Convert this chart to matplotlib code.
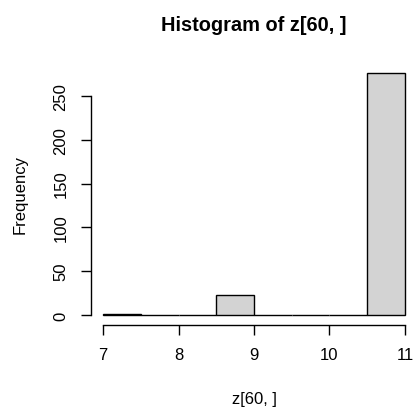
import matplotlib
matplotlib.use("Agg")
import matplotlib.pyplot as plt
import numpy as np

breaks = [7.0, 7.5, 8.0, 8.5, 9.0, 9.5, 10.0, 10.5, 11.0]
counts = [1, 0, 0, 23, 0, 0, 0, 276]
xticks = [7, 8, 9, 10, 11]
yticks = [0, 50, 100, 150, 200, 250]

W, H = 415, 414
plt.rcParams['font.family'] = ['Liberation Sans', 'DejaVu Sans']
fig = plt.figure(figsize=(W/100, H/100), dpi=100)

left, right = 91, 417
bottom, top = 325.7, 64.5
ax = fig.add_axes([left/W, 1-bottom/H, (right-left)/W, (bottom-top)/H])

lefts = np.array(breaks[:-1])
widths = np.diff(breaks)
ax.bar(lefts, counts, width=widths, align='edge', color='#D3D3D3',
       edgecolor='black', linewidth=1.0)

ymax = max(counts)
ax.set_xlim(7 - 0.04*4, 11 + 0.04*4)
ax.set_ylim(-0.04*ymax, ymax*1.04)

for s in ['top', 'right']:
    ax.spines[s].set_visible(False)
ax.spines['left'].set_bounds(0, 250)
ax.spines['bottom'].set_bounds(7, 11)
ax.spines['left'].set_linewidth(1.0)
ax.spines['bottom'].set_linewidth(1.0)

ax.set_xticks(xticks)
ax.set_xticklabels([str(t) for t in xticks])
ax.set_yticks(yticks)
ax.set_yticklabels([str(t) for t in yticks], rotation=90, va='center')
ax.tick_params(direction='out', length=7.2, width=1.0, labelsize=12)
ax.tick_params(axis='x', pad=9)
ax.tick_params(axis='y', pad=9)

cx = (left + right) / 2
fig.text(cx/W, 1-31/H, 'Histogram of z[60, ]', ha='center', va='baseline',
         fontsize=14.4, fontweight='bold')
fig.text(cx/W, 1-400/H, 'z[60, ]', ha='center', va='center', fontsize=12)
fig.text(20/W, 1-195/H, 'Frequency', ha='center', va='center', fontsize=12,
         rotation=90)

fig.savefig('out.png', dpi=100)
